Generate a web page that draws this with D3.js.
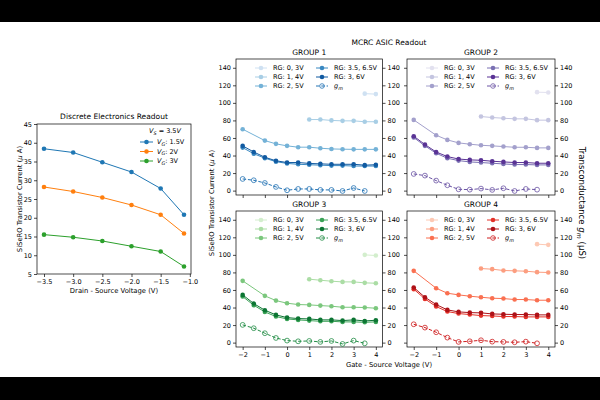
<!DOCTYPE html>
<html>
<head>
<meta charset="utf-8">
<script src="https://cdn.jsdelivr.net/npm/d3@7"></script>
<style>
body { margin: 0; background: #000; }
svg { display: block; }
text { font-family: "DejaVu Sans", sans-serif; fill: #000; }
</style>
</head>
<body>
<svg id="chart" width="600" height="400"></svg>
<script>
// ---- discrete electronics data ----
const vds = [-3.5, -3.0, -2.5, -2.0, -1.5, -1.1]
const idVg15 = [38.4, 37.4, 34.8, 32.2, 27.8, 20.8]
const idVg2 = [28.2, 27.0, 25.4, 23.4, 20.8, 15.8]
const idVg3 = [15.5, 14.8, 13.8, 12.4, 11.0, 7.0]
const vdsTicks = [-3.5, -3.0, -2.5, -2.0, -1.5, -1.0]
const idTicks = [5, 10, 15, 20, 25, 30, 35, 40, 45]
const vgLabels = ["1.5V", "2V", "3V"]

// ---- MCRC ASIC data ----
const vgs = [-2, -1.5, -1, -0.5, 0, 0.5, 1, 1.5, 2, 2.5, 3, 3.5, 4]
const vgsTicks = [-2, -1, 0, 1, 2, 3, 4]
const gmTicks = [0, 20, 40, 60, 80, 100, 120, 140]
const groupNames = ["GROUP 1", "GROUP 2", "GROUP 3", "GROUP 4"]
const rgLabels = ["RG: 0, 3V", "RG: 1, 4V", "RG: 2, 5V", "RG: 3.5, 6.5V", "RG: 3, 6V"]

const g1Rg0 = [null, null, null, null, null, null, null, null, null, null, null, 110.5, 110]
const g1Rg1 = [null, null, null, null, null, null, 81, 81, 80, 79.5, 79.5, 78.5, 78.5]
const g1Rg2 = [70, null, 57, 53.3, 51, 49.5, 49.5, 48.3, 47.5, 47.2, 47, 47, 47]
const g1Rg35 = [49, 42, 37, 33, 31, 30, 29.5, 29, 28.5, 28.5, 28, 28, 28]
const g1Rg3 = [51, 44, 38, 34, 32, 32, 31, 30.5, 30, 30, 30, 29, 29.5]
const g1Gm = [13.3, 11.8, 8.7, 4.2, 0.4, 1.9, 1.9, 0.8, 0.8, -0.4, 3, -0.4, null]

const g2Rg0 = [null, null, null, null, null, null, null, null, null, null, null, 112.2, 111.8]
const g2Rg1 = [null, null, null, null, null, null, 84.4, 83.3, 82.5, 81.8, 81.8, 80.3, 80.3]
const g2Rg2 = [80.6, null, 63.1, 57.8, 54.4, 52.9, 51.7, 51, 50.2, 49.4, 49.4, 48.7, 48.7]
const g2Rg35 = [60.5, 51, 42.6, 36.9, 34.2, 32.7, 32, 31.2, 30.4, 29.7, 29.7, 29.3, 29.3]
const g2Rg3 = [62, 52.5, 44, 38.8, 36, 35, 34.6, 33.5, 32.7, 32, 32, 31.2, 31.2]
const g2Gm = [19, 17.1, 11.4, 6.1, 1.5, 1.1, 2.3, 0.8, 2.7, -0.4, 1.9, 1.1, null]

const g3Rg0 = [null, null, null, null, null, null, null, null, null, null, null, 100, 99.3]
const g3Rg1 = [null, null, null, null, null, null, 72.3, 71.1, 70, 69.2, 69.2, 68.1, 67.7]
const g3Rg2 = [70.4, null, 53.3, 47.9, 44.9, 43.4, 43, 42.2, 41.5, 40.3, 40.3, 40, 39.2]
const g3Rg35 = [52.5, 42.6, 35, 29.7, 27, 25.9, 25.1, 24.3, 24.3, 23.6, 23.6, 23.2, 23.6]
const g3Rg3 = [54.4, 44.5, 36.9, 31.6, 28.5, 27.4, 27, 25.9, 25.9, 25.1, 25.9, 24.7, 25.5]
const g3Gm = [20.2, 16.4, 10.7, 5.3, 2.3, 1.5, 1.9, 0.8, 1.9, -1.5, 2.3, -0.8, null]

const g4Rg0 = [null, null, null, null, null, null, null, null, null, null, null, 112.2, 111.4]
const g4Rg1 = [null, null, null, null, null, null, 84.4, 83.7, 82.2, 81.8, 81.4, 80.3, 79.9]
const g4Rg2 = [81.8, null, 62, 56.3, 54.4, 52.9, 51.7, 50.6, 50.2, 49.1, 49.1, 48.3, 48.3]
const g4Rg35 = [60.9, 49.8, 41.1, 35.4, 33.1, 32, 30.8, 30.4, 29.7, 29.7, 29.3, 29.3, 29.3]
const g4Rg3 = [62.8, 51.7, 43.4, 37.3, 35, 34.2, 33.9, 32.7, 32.3, 32, 32, 31.6, 31.6]
const g4Gm = [20.9, 17.1, 11.8, 5.7, 0.8, 1.5, 2.7, 1.1, 0.8, 0.4, 1.1, -0.8, null]

const groupSeries = [
    [g1Rg0, g1Rg1, g1Rg2, g1Rg35, g1Rg3, g1Gm],
    [g2Rg0, g2Rg1, g2Rg2, g2Rg35, g2Rg3, g2Gm],
    [g3Rg0, g3Rg1, g3Rg2, g3Rg35, g3Rg3, g3Gm],
    [g4Rg0, g4Rg1, g4Rg2, g4Rg35, g4Rg3, g4Gm]
]
const cmaps = [d3.interpolateBlues, d3.interpolatePurples, d3.interpolateGreens, d3.interpolateReds]
const shade = [0.2, 0.34, 0.48, 0.66, 0.84, 0.74]

const svg = d3.select('#chart')
svg.append('rect').attr('x', 0).attr('y', 22).attr('width', 600).attr('height', 355).attr('fill', '#fff')

const tickFont = '6.5px'

function styleAxis(g) {
    g.select('.domain').remove()
    g.selectAll('.tick line').attr('stroke', '#000').attr('stroke-width', 0.7)
    g.selectAll('.tick text').attr('font-size', tickFont).attr('font-family', '"DejaVu Sans", sans-serif').attr('fill', '#000')
}

function frame(g, x0, x1, y0, y1) {
    g.append('rect').attr('x', x0).attr('y', y0).attr('width', x1 - x0).attr('height', y1 - y0)
        .attr('fill', 'none').attr('stroke', '#000').attr('stroke-width', 0.7)
}

// ================= left panel =================
const lx = d3.scaleLinear().domain([-3.62, -0.98]).range([37, 191])
const ly = d3.scaleLinear().domain([5, 45]).range([274, 124])
const left = svg.append('g')

left.append('g').attr('transform', 'translate(0,274)')
    .call(d3.axisBottom(lx).tickValues(vdsTicks).tickFormat(d3.format('.1f')).tickSize(3).tickPadding(2))
    .call(styleAxis)
left.append('g').attr('transform', 'translate(37,0)')
    .call(d3.axisLeft(ly).tickValues(idTicks).tickSize(3).tickPadding(2))
    .call(styleAxis)
frame(left, 37, 191, 124, 274)

const tab = ['#1f77b4', '#ff7f0e', '#2ca02c'];
[idVg15, idVg2, idVg3].forEach((vals, k) => {
    const line = d3.line().x((d, i) => lx(vds[i])).y(d => ly(d))
    left.append('path').datum(vals).attr('fill', 'none').attr('stroke', tab[k]).attr('stroke-width', 1).attr('d', line)
    left.selectAll('circle.s' + k).data(vals).enter().append('circle')
        .attr('cx', (d, i) => lx(vds[i])).attr('cy', d => ly(d)).attr('r', 2.3).attr('fill', tab[k])
})

left.append('text').attr('x', 114).attr('y', 116).attr('text-anchor', 'middle').attr('dominant-baseline', 'central')
    .attr('font-size', '7.5px').text('Discrete Electronics Readout')
left.append('text').attr('x', 114).attr('y', 291).attr('text-anchor', 'middle').attr('dominant-baseline', 'central')
    .attr('font-size', '6.8px').text('Drain - Source Voltage (V)')
const lyl = left.append('text').attr('transform', 'translate(20,199) rotate(-90)').attr('text-anchor', 'middle')
    .attr('dominant-baseline', 'central').attr('font-size', '6.8px')
lyl.append('tspan').text('SiSeRO Transistor Current (')
lyl.append('tspan').attr('font-style', 'italic').text('μ')
lyl.append('tspan').text(' A)')

// legend
const lt = left.append('text').attr('x', 165).attr('y', 131).attr('text-anchor', 'middle').attr('dominant-baseline', 'central').attr('font-size', '6.5px')
lt.append('tspan').attr('font-style', 'italic').text('V')
lt.append('tspan').attr('font-style', 'italic').attr('font-size', '4.8px').attr('dy', 1.5).text('S')
lt.append('tspan').attr('dy', -1.5).text(' = 3.5')
lt.append('tspan').attr('font-style', 'italic').text('V')
vgLabels.forEach((lab, k) => {
    const yy = 142 + k * 9.5
    left.append('line').attr('x1', 140).attr('x2', 153).attr('y1', yy).attr('y2', yy).attr('stroke', tab[k]).attr('stroke-width', 1)
    left.append('circle').attr('cx', 146.5).attr('cy', yy).attr('r', 2.3).attr('fill', tab[k])
    const t = left.append('text').attr('x', 157).attr('y', yy).attr('dominant-baseline', 'central').attr('font-size', '6.5px')
    t.append('tspan').attr('font-style', 'italic').text('V')
    t.append('tspan').attr('font-style', 'italic').attr('font-size', '4.8px').attr('dy', 1.5).text('G')
    t.append('tspan').attr('dy', -1.5).text(': ' + lab)
})

// ================= right panels =================
const cols = [[236, 382.5], [407, 555]]
const rows = [[59, 195], [211, 347]]

svg.append('text').attr('x', 389).attr('y', 42).attr('text-anchor', 'middle').attr('dominant-baseline', 'central')
    .attr('font-size', '7.5px').text('MCRC ASIC Readout')
svg.append('text').attr('x', 389).attr('y', 365).attr('text-anchor', 'middle').attr('dominant-baseline', 'central')
    .attr('font-size', '6.8px').text('Gate - Source Voltage (V)')
const ryl = svg.append('text').attr('transform', 'translate(211.5,203) rotate(-90)').attr('text-anchor', 'middle')
    .attr('dominant-baseline', 'central').attr('font-size', '6.8px')
ryl.append('tspan').text('SiSeRO Transistor Current (')
ryl.append('tspan').attr('font-style', 'italic').text('μ')
ryl.append('tspan').text(' A)')
const tyl = svg.append('text').attr('transform', 'translate(582,203) rotate(90)').attr('text-anchor', 'middle')
    .attr('dominant-baseline', 'central').attr('font-size', '8.6px')
tyl.append('tspan').text('Transconductance ')
tyl.append('tspan').attr('font-style', 'italic').text('g')
tyl.append('tspan').attr('font-style', 'italic').attr('font-size', '6.2px').attr('dy', 2).text('m')
tyl.append('tspan').attr('dy', -2).text(' (μS)')

groupNames.forEach((name, gi) => {
    const [x0, x1] = cols[gi % 2]
    const [y0, y1] = rows[Math.floor(gi / 2)]
    const x = d3.scaleLinear().domain([-2.3, 4.3]).range([x0, x1])
    const y = d3.scaleLinear().domain([-5, 150]).range([y1, y0])
    const cmap = cmaps[gi]
    const g = svg.append('g')

    const xAxis = d3.axisBottom(x).tickValues(vgsTicks).tickFormat(d3.format('d')).tickSize(3).tickPadding(2)
    if (gi < 2) xAxis.tickFormat('')
    g.append('g').attr('transform', `translate(0,${y1})`).call(xAxis).call(styleAxis)
    const yLeft = d3.axisLeft(y).tickValues(gmTicks).tickSize(3).tickPadding(2)
    if (gi % 2 === 1) yLeft.tickFormat('')
    g.append('g').attr('transform', `translate(${x0},0)`).call(yLeft).call(styleAxis)
    g.append('g').attr('transform', `translate(${x1},0)`)
        .call(d3.axisRight(y).tickValues(gmTicks).tickSize(3).tickPadding(2)).call(styleAxis)
    frame(g, x0, x1, y0, y1)

    g.append('text').attr('x', (x0 + x1) / 2).attr('y', y0 - 6.5).attr('text-anchor', 'middle').attr('dominant-baseline', 'central')
        .attr('font-size', '7.5px').text(name)

    groupSeries[gi].forEach((vals, k) => {
        const pts = vals.map((v, i) => [vgs[i], v]).filter(p => p[1] !== null)
        const color = cmap(shade[k])
        const isGm = k === 5
        const line = d3.line().x(p => x(p[0])).y(p => y(p[1]))
        g.append('path').datum(pts).attr('fill', 'none').attr('stroke', color).attr('stroke-width', 1)
            .attr('stroke-dasharray', isGm ? '3.5,1.8' : null).attr('d', line)
        g.selectAll('circle.s' + k).data(pts).enter().append('circle')
            .attr('cx', p => x(p[0])).attr('cy', p => y(p[1])).attr('r', isGm ? 2.4 : 2.3)
            .attr('fill', isGm ? 'none' : color).attr('stroke', color).attr('stroke-width', isGm ? 0.8 : 0)
    })

    // legend, two columns
    const labels = rgLabels.concat(['gm'])
    labels.forEach((lab, k) => {
        const col = Math.floor(k / 3), row = k % 3
        const lx0 = x0 + (col === 0 ? 19 : 80)
        const yy = y0 + 9 + row * 9
        const color = cmap(shade[k])
        const isGm = k === 5
        g.append('line').attr('x1', lx0).attr('x2', lx0 + 12).attr('y1', yy).attr('y2', yy)
            .attr('stroke', color).attr('stroke-width', 1).attr('stroke-dasharray', isGm ? '3.5,1.8' : null)
        g.append('circle').attr('cx', lx0 + 6).attr('cy', yy).attr('r', 2.3)
            .attr('fill', isGm ? 'none' : color).attr('stroke', color).attr('stroke-width', isGm ? 0.8 : 0)
        const t = g.append('text').attr('x', lx0 + 18).attr('y', yy).attr('dominant-baseline', 'central').attr('font-size', '6.5px')
        if (isGm) {
            t.append('tspan').attr('font-style', 'italic').text('g')
            t.append('tspan').attr('font-style', 'italic').attr('font-size', '4.8px').attr('dy', 1.5).text('m')
        } else {
            t.text(lab)
        }
    })
})
</script>
</body>
</html>
